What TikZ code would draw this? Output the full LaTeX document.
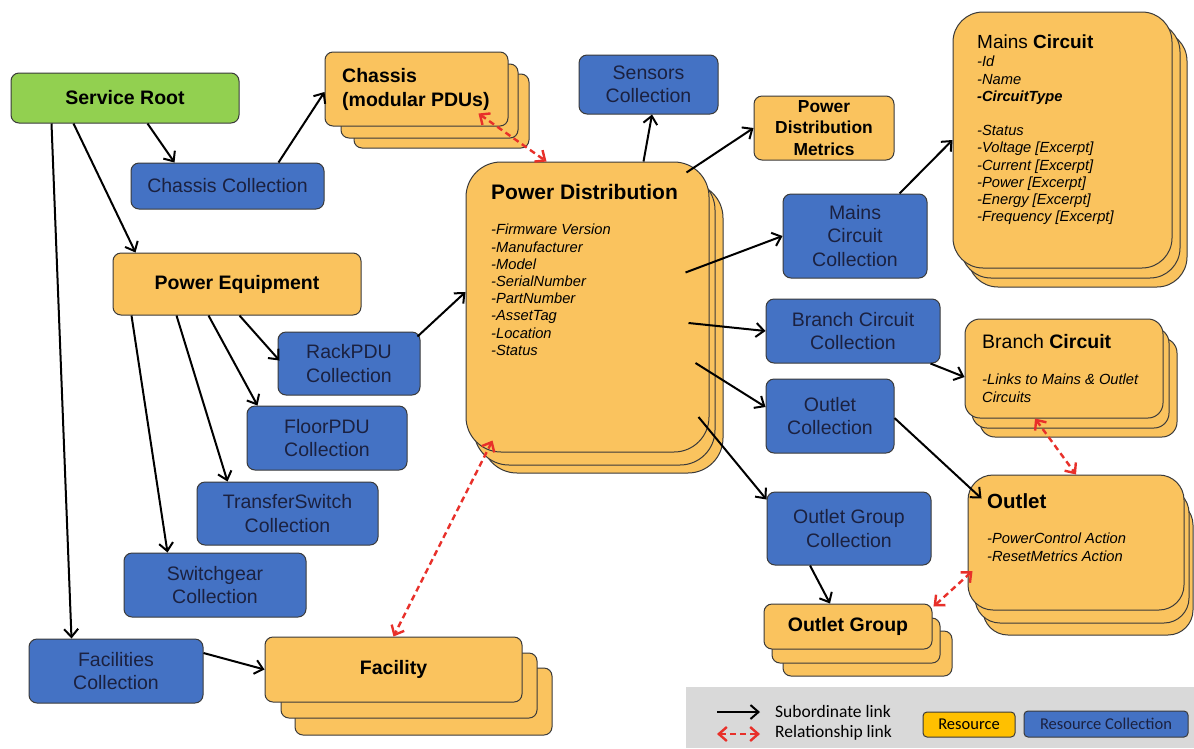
\documentclass[tikz,border=0pt]{standalone}
\usepackage{fontspec}
\setmainfont{Liberation Sans}
\newfontfamily\legfont{Carlito}
\usetikzlibrary{arrows.meta}
\definecolor{resfill}{HTML}{FAC35E}
\definecolor{colfill}{HTML}{4472C4}
\definecolor{rootfill}{HTML}{92D050}
\definecolor{bd}{HTML}{3A3A3A}
\definecolor{navy}{HTML}{1B2140}
\definecolor{rel}{HTML}{E8302A}
\definecolor{leggray}{HTML}{D9D9D9}
\definecolor{legres}{HTML}{FFC000}
\begin{document}
\begin{tikzpicture}[x=1pt,y=-1pt,
 box/.style={draw=bd,line width=1pt,rounded corners=8pt,inner sep=0pt,align=center},
 resbox/.style={box,fill=resfill,font=\bfseries\fontsize{19.5}{23.5}\selectfont},
 colbox/.style={box,fill=colfill,text=navy,font=\fontsize{19.5}{23.5}\selectfont},
 back/.style={draw=bd,line width=1pt,fill=resfill},
 sub/.style={draw=black,line width=2pt,-{Straight Barb[length=8pt,width=14pt]}},
 relink/.style={draw=rel,line width=2.4pt,dash pattern=on 6pt off 4pt,{Straight Barb[length=8pt,width=14pt]}-{Straight Barb[length=8pt,width=14pt]}},
 item/.style={inner sep=0pt,anchor=north west,align=left,font=\itshape\fontsize{14.7}{17.2}\selectfont},
 ttl/.style={inner sep=0pt,anchor=north west,align=left},
 legtxt/.style={inner sep=0pt,anchor=west,font=\legfont\fontsize{17.5}{20}\selectfont},
]
\fill[white] (0,0) rectangle (1194,748);
\useasboundingbox (0,0) rectangle (1194,748);

% ---------- left side ----------
\node[box,fill=rootfill,font=\bfseries\fontsize{19.5}{23.5}\selectfont,minimum width=228pt,minimum height=50pt] (sr) at (125,98) {Service Root};
\node[colbox,minimum width=193pt,minimum height=46pt] (chc) at (227.5,186) {Chassis Collection};

% Chassis stack
\draw[back,rounded corners=8pt] (354,74) rectangle (529,148);
\draw[back,rounded corners=8pt] (341,64) rectangle (518,138);
\node[box,fill=resfill,minimum width=183pt,minimum height=74pt] (ch) at (416.5,89) {};
\node[ttl,font=\bfseries\fontsize{19.5}{24.5}\selectfont] (cht) at (342,68) {Chassis\\(modular PDUs)};

\node[resbox,minimum width=248pt,minimum height=62pt] (pe) at (237,284) {Power Equipment};
\node[colbox,minimum width=142pt,minimum height=63pt] (rack) at (349,363.5) {RackPDU\\Collection};
\node[colbox,minimum width=160pt,minimum height=64pt] (floor) at (327,438) {FloorPDU\\Collection};
\node[colbox,minimum width=181pt,minimum height=63pt] (ts) at (287.5,513.5) {TransferSwitch\\Collection};
\node[colbox,minimum width=182pt,minimum height=64pt] (sg) at (215,585) {Switchgear\\Collection};
\node[colbox,minimum width=174pt,minimum height=64pt] (fc) at (116,671) {Facilities\\Collection};

% Facility stack
\draw[back,rounded corners=8pt] (295,668) rectangle (552,735);
\draw[back,rounded corners=8pt] (281,653) rectangle (537,718);
\node[resbox,minimum width=257pt,minimum height=65pt] (fa) at (393.5,669.5) {Facility};

% ---------- centre ----------
\node[colbox,minimum width=139pt,minimum height=59pt] (sens) at (648.5,84.5) {Sensors\\Collection};
\node[box,fill=resfill,font=\bfseries\fontsize{17.4}{21.5}\selectfont,minimum width=140pt,minimum height=64pt] (met) at (824,128) {Power\\Distribution\\Metrics};

% Power Distribution stack
\draw[back,rounded corners=35pt] (482,183) rectangle (723,473);
\draw[back,rounded corners=35pt] (474,175) rectangle (715,465);
\node[box,fill=resfill,rounded corners=35pt,minimum width=243pt,minimum height=290pt] (pd) at (587.5,307) {};
\node[ttl,font=\bfseries\fontsize{21}{24}\selectfont] (pdt) at (491,184.5) {Power Distribution};
\node[item] (pdi) at (491,224) {-Firmware Version\\-Manufacturer\\-Model\\-SerialNumber\\-PartNumber\\-AssetTag\\-Location\\-Status};

% ---------- right ----------
\node[colbox,minimum width=144pt,minimum height=84pt] (mcc) at (855,236) {Mains\\Circuit\\Collection};
\node[colbox,minimum width=174pt,minimum height=64pt] (bcc) at (853,331) {Branch Circuit\\Collection};
\node[colbox,minimum width=128pt,minimum height=74pt] (oc) at (830,416) {Outlet\\Collection};
\node[colbox,minimum width=164pt,minimum height=73pt] (ogc) at (849,528.5) {Outlet Group\\Collection};

% Outlet Group stack
\draw[back,rounded corners=8pt] (783,631) rectangle (952,676);
\draw[back,rounded corners=8pt] (772,618) rectangle (940,663);
\node[resbox,minimum width=168pt,minimum height=45pt] (og) at (848,626.5) {Outlet Group};

% Mains Circuit stack
\draw[back,rounded corners=30pt] (968,31) rectangle (1187,287);
\draw[back,rounded corners=30pt] (961,22) rectangle (1180,278);
\node[box,fill=resfill,rounded corners=30pt,minimum width=219pt,minimum height=256pt] (mc) at (1062.5,140) {};
\node[ttl,font=\fontsize{19}{23}\selectfont] (mct) at (977,35) {Mains \textbf{Circuit}};
\node[item] (mci) at (977,56) {-Id\\-Name\\\textbf{-CircuitType}\\[17.2pt]-Status\\-Voltage [Excerpt]\\-Current [Excerpt]\\-Power [Excerpt]\\-Energy [Excerpt]\\-Frequency [Excerpt]};

% Branch Circuit stack
\draw[back,rounded corners=15pt] (980,338) rectangle (1177,437);
\draw[back,rounded corners=15pt] (972,328) rectangle (1169,428);
\node[box,fill=resfill,rounded corners=15pt,minimum width=198pt,minimum height=99pt] (bc) at (1064,368.5) {};
\node[ttl,font=\fontsize{19.5}{23}\selectfont] (bct) at (982,334) {Branch \textbf{Circuit}};
\node[item] (bci) at (982,374) {-Links to Mains \& Outlet\\Circuits};

% Outlet stack
\draw[back,rounded corners=25pt] (983,500) rectangle (1193,635);
\draw[back,rounded corners=25pt] (975,488) rectangle (1189,623);
\node[box,fill=resfill,rounded corners=25pt,minimum width=216pt,minimum height=135pt] (ou) at (1076,542.5) {};
\node[ttl,font=\bfseries\fontsize{20.5}{24}\selectfont] (out) at (987,493) {Outlet};
\node[item] (oui) at (987,533) {-PowerControl Action\\-ResetMetrics Action};

% ---------- subordinate links ----------
\draw[sub] ([xshift=137pt]sr.south west) -- ([xshift=44pt]chc.north west);
\draw[sub] ([xshift=63pt]sr.south west) -- ([xshift=23pt]pe.north west);
\draw[sub] ([xshift=41pt]sr.south west) -- ([xshift=43pt]fc.north west);
\draw[sub] ([xshift=148pt]chc.north west) -- ([yshift=-3pt]ch.west);
\draw[sub] ([xshift=127pt]pe.south west) -- ([xshift=2pt,yshift=3pt]rack.west);
\draw[sub] ([xshift=96pt]pe.south west) -- ([xshift=11pt]floor.north west);
\draw[sub] ([xshift=64pt]pe.south west) -- ([xshift=31pt]ts.north west);
\draw[sub] ([xshift=19pt]pe.south west) -- ([xshift=44pt]sg.north west);
\draw[sub] ([xshift=-3pt,yshift=-5pt]rack.north east) -- ([yshift=15pt]pd.west);
\draw[sub] ([yshift=18pt]fc.east) -- (fa.west);
\draw[sub] ([xshift=178pt]pd.north west) -- ([xshift=3.5pt]sens.south);
\draw[sub] ([xshift=-23pt,yshift=-11pt]pd.north east) -- (met.west);
\draw[sub] ([xshift=-24pt,yshift=-111pt]pd.north east) -- (mcc.west);
\draw[sub] ([xshift=-28pt]mcc.north east) -- (mc.west);
\draw[sub] ([xshift=-21pt,yshift=-16pt]pd.east) -- (bcc.west);
\draw[sub] ([xshift=-14pt,yshift=-56pt]pd.east) -- ([yshift=9pt]oc.west);
\draw[sub] ([xshift=-11pt,yshift=-110pt]pd.east) -- ([yshift=-8pt]ogc.north west);
\draw[sub] ([xshift=-10pt]bcc.south east) -- ([yshift=-8.5pt]bc.west);
\draw[sub] ([yshift=-2pt]oc.east) -- ([xshift=14pt,yshift=-24pt]ou.north west);
\draw[sub] ([xshift=-39pt]ogc.south) -- ([xshift=-18pt]og.north);

% ---------- relationship links ----------
\draw[relink] ([xshift=-30pt,yshift=13pt]ch.south east) -- ([xshift=81pt]pd.north west);
\draw[relink] ([xshift=27pt,yshift=12pt]pd.south west) -- (fa.north);
\draw[relink] ([xshift=-29pt]bc.south) -- (ou.north);
\draw[relink] ([xshift=5pt,yshift=-28.5pt]ou.west) -- ([xshift=1pt,yshift=-3pt]og.north east);

% ---------- legend ----------
\fill[leggray] (686,687) rectangle (1194,748);
\coordinate (l1a) at (717,712);
\coordinate (l1b) at (760,712);
\draw[sub] (l1a) -- (l1b);
\node[legtxt] (l1t) at (775,711) {Subordinate link};
\coordinate (l2a) at (717,734);
\coordinate (l2b) at (760,734);
\draw[relink] (l2a) -- (l2b);
\node[legtxt] (l2t) at (775,733) {Relationship link};
\node[draw=bd,line width=1pt,rounded corners=4pt,fill=legres,minimum width=92pt,minimum height=25pt,inner sep=0pt,font=\legfont\fontsize{16.5}{19}\selectfont] (lres) at (969,724.5) {Resource};
\node[draw=bd,line width=1pt,rounded corners=4pt,fill=colfill,text=navy,minimum width=164pt,minimum height=26pt,inner sep=0pt,font=\legfont\fontsize{16.5}{19}\selectfont] (lcol) at (1106,724) {Resource Collection};
\end{tikzpicture}
\end{document}
